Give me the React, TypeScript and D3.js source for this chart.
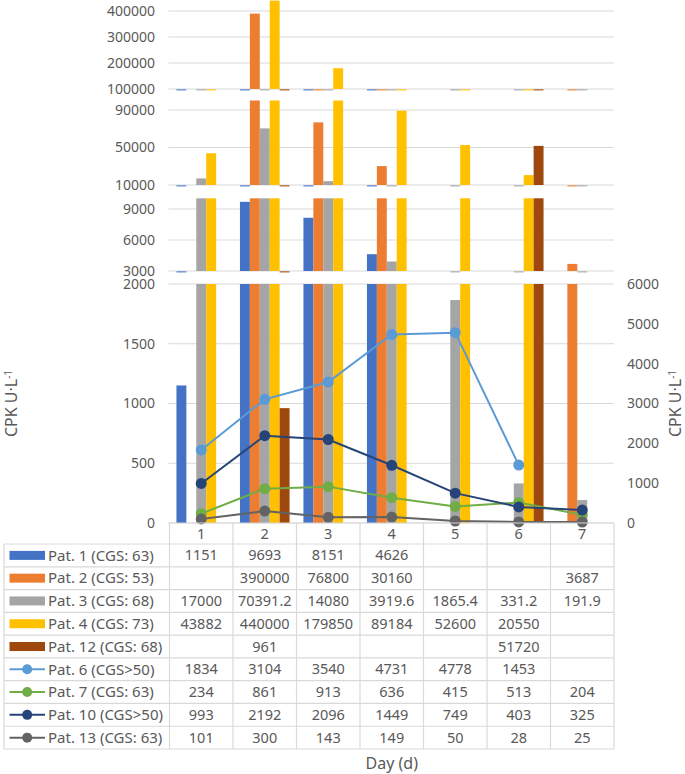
import React from "react";
import * as d3 from "d3";

const days = ["1", "2", "3", "4", "5", "6", "7"];

const pat1 = [1151, 9693, 8151, 4626, null, null, null];
const pat2 = [null, 390000, 76800, 30160, null, null, 3687];
const pat3 = [17000, 70391.2, 14080, 3919.6, 1865.4, 331.2, 191.9];
const pat4 = [43882, 440000, 179850, 89184, 52600, 20550, null];
const pat12 = [null, 961, null, null, null, 51720, null];
const pat6 = [1834, 3104, 3540, 4731, 4778, 1453, null];
const pat7 = [234, 861, 913, 636, 415, 513, 204];
const pat10 = [993, 2192, 2096, 1449, 749, 403, 325];
const pat13 = [101, 300, 143, 149, 50, 28, 25];

const barSeries = [
  { name: "Pat. 1 (CGS: 63)", values: pat1, color: "#4472C4" },
  { name: "Pat. 2 (CGS: 53)", values: pat2, color: "#ED7D31" },
  { name: "Pat. 3 (CGS: 68)", values: pat3, color: "#A5A5A5" },
  { name: "Pat. 4 (CGS: 73)", values: pat4, color: "#FFC000" },
  { name: "Pat. 12 (CGS: 68)", values: pat12, color: "#9E480E" },
];
const lineSeries = [
  { name: "Pat. 6 (CGS>50)", values: pat6, color: "#5B9BD5" },
  { name: "Pat. 7 (CGS: 63)", values: pat7, color: "#70AD47" },
  { name: "Pat. 10 (CGS>50)", values: pat10, color: "#264478" },
  { name: "Pat. 13 (CGS: 63)", values: pat13, color: "#636363" },
];

const ticksA = [100000, 200000, 300000, 400000];
const ticksB = [10000, 50000, 90000];
const ticksC = [3000, 6000, 9000];
const ticksD = [0, 500, 1000, 1500, 2000];
const ticksRight = [0, 1000, 2000, 3000, 4000, 5000, 6000];

// layout
const W = 685, H = 774;
const plotL = 169.5, plotR = 614;
const tableL = 4;
const rowTop = 544, rowH = 22.78;
const font = "'Noto Sans', sans-serif";
const textColor = "#595959";
const gridColor = "#D9D9D9";

const panels = [
  { ticks: ticksA, y0: 89, y1: 11, clip: 0 },
  { ticks: ticksB, y0: 185, y1: 110, clip: 100.5 },
  { ticks: ticksC, y0: 271, y1: 209, clip: 198.3 },
  { ticks: ticksD, y0: 523, y1: 284, clip: 284 },
].map((p) => ({
  ...p,
  min: p.ticks[0],
  scale: d3
    .scaleLinear()
    .domain([p.ticks[0], p.ticks[p.ticks.length - 1]])
    .range([p.y0, p.y1]),
}));

const xDay = d3.scaleBand<string>().domain(days).range([plotL, plotR]).padding(0);
const xBar = d3
  .scaleBand<string>()
  .domain(barSeries.map((s) => s.name))
  .range([0, xDay.bandwidth()])
  .paddingInner(0)
  .paddingOuter(0.7);
const yRight = d3.scaleLinear().domain([0, 6000]).range([523, 284]);

export default function App() {
  const lineGen = d3
    .line<number | null>()
    .defined((d) => d != null)
    .x((_, i) => xDay(days[i])! + xDay.bandwidth() / 2)
    .y((d) => yRight(d as number));

  const allRows = [...barSeries.map((s) => ({ ...s, kind: "bar" })), ...lineSeries.map((s) => ({ ...s, kind: "line" }))];
  const tableBottom = rowTop + rowH * allRows.length;

  return (
    <svg width={W} height={H} style={{ position: "absolute", left: 0, top: 0, background: "#fff" }} fontFamily={font}>
      {/* gridlines and left ticks */}
      {panels.map((p, pi) => (
        <g key={"p" + pi}>
          {p.ticks.map((t) => (
            <g key={t}>
              <line x1={plotL - 1} x2={plotR} y1={p.scale(t)} y2={p.scale(t)} stroke={gridColor} strokeWidth={1} />
              <text x={155} y={p.scale(t)} dy="0.35em" textAnchor="end" fontSize={14} fill={textColor}>
                {t}
              </text>
            </g>
          ))}
        </g>
      ))}
      {/* right ticks */}
      {ticksRight.map((t) => (
        <text key={"r" + t} x={627} y={yRight(t)} dy="0.35em" textAnchor="start" fontSize={14} fill={textColor}>
          {t}
        </text>
      ))}
      {/* bars in each panel */}
      {panels.map((p, pi) => (
        <g key={"b" + pi}>
          {barSeries.map((s) =>
            s.values.map((v, i) => {
              if (v == null) return null;
              const x = xDay(days[i])! + xBar(s.name)!;
              const w = xBar.bandwidth();
              if (v <= p.min) {
                return <rect key={s.name + i} x={x} y={p.y0} width={w} height={1.6} fill={s.color} opacity={0.65} />;
              }
              const yTop = Math.max(p.clip, p.scale(v));
              return <rect key={s.name + i} x={x} y={yTop} width={w} height={p.y0 - yTop} fill={s.color} />;
            })
          )}
        </g>
      ))}
      {/* lines */}
      {lineSeries.map((s) => (
        <g key={s.name}>
          <path d={lineGen(s.values) || ""} fill="none" stroke={s.color} strokeWidth={2} />
          {s.values.map((v, i) =>
            v == null ? null : (
              <circle key={i} cx={xDay(days[i])! + xDay.bandwidth() / 2} cy={yRight(v)} r={5.5} fill={s.color} />
            )
          )}
        </g>
      ))}
      {/* axis line */}
      <line x1={plotL} x2={plotR} y1={523} y2={523} stroke={gridColor} strokeWidth={1} />
      {/* table */}
      <g>
        {days.map((d) => (
          <text key={"h" + d} x={xDay(d)! + xDay.bandwidth() / 2} y={534} dy="0.35em" textAnchor="middle" fontSize={14.5} fill={textColor}>
            {d}
          </text>
        ))}
        {[...days.map((d) => xDay(d)!), plotR].map((x, i) => (
          <line key={"v" + i} x1={x} x2={x} y1={523} y2={tableBottom} stroke={gridColor} strokeWidth={1.2} />
        ))}
        <line x1={tableL} x2={tableL} y1={rowTop} y2={tableBottom} stroke={gridColor} strokeWidth={1.2} />
        {allRows.map((r, ri) => {
          const y = rowTop + ri * rowH;
          const cy = y + rowH / 2;
          return (
            <g key={r.name}>
              <line x1={tableL} x2={plotR} y1={y} y2={y} stroke={gridColor} strokeWidth={1.2} />
              {r.kind === "bar" ? (
                <rect x={9.5} y={cy - 4.5} width={35.5} height={9} fill={r.color} />
              ) : (
                <g>
                  <line x1={9.5} x2={45} y1={cy} y2={cy} stroke={r.color} strokeWidth={2} />
                  <circle cx={27.2} cy={cy} r={5} fill={r.color} />
                </g>
              )}
              <text x={48} y={cy} dy="0.35em" fontSize={15} fill={textColor}>
                {r.name}
              </text>
              {r.values.map((v, i) =>
                v == null ? null : (
                  <text key={i} x={xDay(days[i])! + xDay.bandwidth() / 2} y={cy} dy="0.35em" textAnchor="middle" fontSize={14.5} fill={textColor}>
                    {String(v)}
                  </text>
                )
              )}
            </g>
          );
        })}
        <line x1={tableL} x2={plotR} y1={tableBottom} y2={tableBottom} stroke={gridColor} strokeWidth={1.2} />
      </g>
      {/* axis titles */}
      <text x={(plotL + plotR) / 2} y={763} dy="0.35em" textAnchor="middle" fontSize={16} fill={textColor}>
        Day (d)
      </text>
      <text transform={`translate(16.5,${(284 + 523) / 2}) rotate(-90)`} textAnchor="middle" fontSize={16} fill={textColor}>
        CPK U·L<tspan dy={-5} fontSize={10}>-1</tspan>
      </text>
      <text transform={`translate(681,${(284 + 523) / 2}) rotate(-90)`} textAnchor="middle" fontSize={16} fill={textColor}>
        CPK U·L<tspan dy={-5} fontSize={10}>-1</tspan>
      </text>
    </svg>
  );
}
